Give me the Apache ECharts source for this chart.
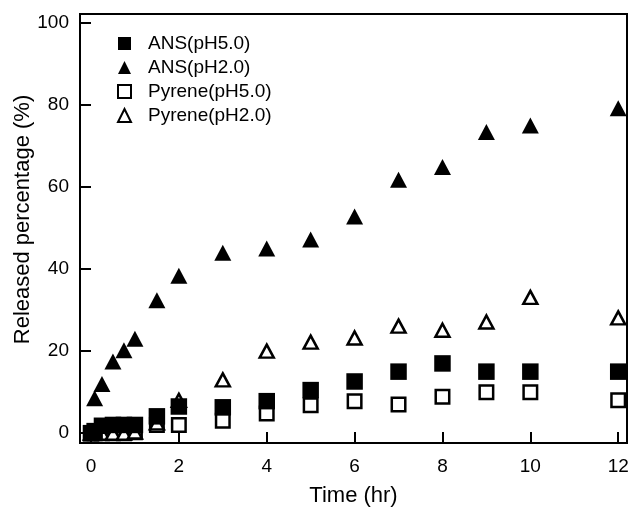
<!DOCTYPE html>
<html><head><meta charset="utf-8">
<script src="https://cdn.jsdelivr.net/npm/echarts@6/dist/echarts.min.js"></script>
<style>html,body{margin:0;padding:0;background:#fff}#c{width:629px;height:509px}</style>
</head><body><div id="c"></div>
<script>
const times = [0, 0.083, 0.25, 0.5, 0.75, 1, 1.5, 2, 3, 4, 5, 6, 7, 8, 9, 10, 12];
const ansPH5 = [0, 0.5, 1.8, 2, 2, 2, 4.1, 6.5, 6.3, 7.8, 10.5, 12.6, 15, 17, 15, 15, 15];
const ansPH2 = [0, 8.5, 12, 17.5, 20.2, 23, 32.4, 38.4, 44, 45, 47.2, 52.8, 61.8, 64.9, 73.4, 75, 79.2];
const pyrPH5 = [0, 0, 0, 0, 0, 0.2, 2, 2, 3, 4.8, 6.8, 7.8, 7, 8.9, 10, 10, 8];
const pyrPH2 = [0, 0, 0, 0, 0, 0.3, 2.5, 8, 13, 20, 22.2, 23.2, 26.1, 25.1, 27.1, 33.1, 28.1];
const xTicks = [0, 2, 4, 6, 8, 10, 12];
const yTicks = [0, 20, 40, 60, 80, 100];
const seriesNames = ['ANS(pH5.0)', 'ANS(pH2.0)', 'Pyrene(pH5.0)', 'Pyrene(pH2.0)'];

function pairs(vals) { return times.map((t, i) => [t, vals[i]]); }
const font = '"Liberation Sans", Arial, sans-serif';
const chart = echarts.init(document.getElementById('c'), null, {renderer: 'canvas'});
const axisCommon = {
  type: 'value',
  splitLine: {show: false},
  axisLine: {show: true, onZero: false, lineStyle: {color: '#000', width: 2}},
  nameLocation: 'middle',
  nameMoveOverlap: false
};
chart.setOption({
  animation: false,
  backgroundColor: '#fff',
  grid: {left: 80, top: 14, width: 547, height: 429, show: true, borderColor: '#000', borderWidth: 2,
         backgroundColor: 'transparent', outerBoundsMode: 'none', containLabel: false},
  xAxis: Object.assign({}, axisCommon, {
    min: -0.25, max: 12.2,
    axisTick: {show: true, inside: true, length: 11, lineStyle: {color: '#000', width: 2}, customValues: xTicks},
    axisLabel: {customValues: xTicks, color: '#000', fontSize: 19, fontFamily: font, margin: 14},
    name: 'Time (hr)', nameGap: 42,
    nameTextStyle: {color: '#000', fontSize: 22, fontFamily: font}
  }),
  yAxis: Object.assign({}, axisCommon, {
    min: -2.4, max: 102.2,
    axisTick: {show: true, inside: true, length: 11, lineStyle: {color: '#000', width: 2}, customValues: yTicks},
    axisLabel: {customValues: yTicks, color: '#000', fontSize: 19, fontFamily: font, margin: 11},
    name: 'Released percentage (%)', nameGap: 46,
    nameTextStyle: {color: '#000', fontSize: 22, fontFamily: font, padding: [0, 0, 0, 18]}
  }),
  legend: {
    data: seriesNames, orient: 'vertical', left: 112, top: 29,
    itemWidth: 13, itemHeight: 13, itemGap: 5,
    textStyle: {color: '#000', fontSize: 19, fontFamily: font, padding: [0, 0, 0, 12]}
  },
  series: [
    {name: seriesNames[2], type: 'scatter', z: 2, symbol: 'rect', symbolSize: 13.5, data: pairs(pyrPH5),
     itemStyle: {color: '#fff', borderColor: '#000', borderWidth: 2.5, opacity: 1}},
    {name: seriesNames[3], type: 'scatter', z: 2, symbol: 'triangle', symbolSize: [14, 13], data: pairs(pyrPH2),
     itemStyle: {color: '#fff', borderColor: '#000', borderWidth: 2.5, opacity: 1}},
    {name: seriesNames[0], type: 'scatter', z: 3, symbol: 'rect', symbolSize: 16.5, data: pairs(ansPH5),
     itemStyle: {color: '#000', opacity: 1}},
    {name: seriesNames[1], type: 'scatter', z: 3, symbol: 'triangle', symbolSize: [17, 16], data: pairs(ansPH2),
     itemStyle: {color: '#000', opacity: 1}}
  ]
});
</script></body></html>
